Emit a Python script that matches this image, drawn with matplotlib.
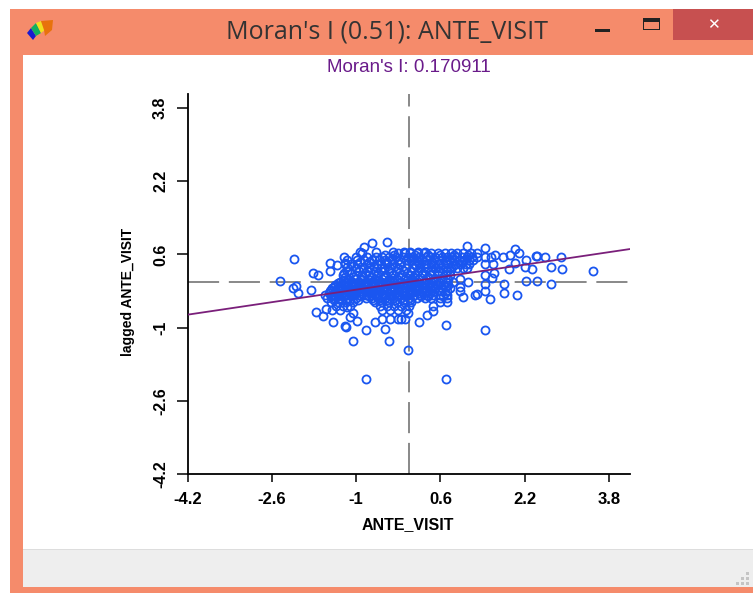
import matplotlib
matplotlib.use('Agg')
import matplotlib.pyplot as plt
from matplotlib.patches import Rectangle, Polygon

W, H = 753, 593

# points standing on their own
outlier_x = [-2.18, -2.445, -2.205, -2.14, -2.10, -1.865, -1.81, -1.73, -1.50, -1.50, -1.37, -1.23,
             -1.21, -1.17, -1.23, -0.69, -0.42, -0.85, -0.895, -1.77, -1.635, -1.57, -1.43, -1.21,
             -1.19, -0.99, -0.82, -1.05, -0.45, -0.385, -0.65, -0.515, -0.36, -0.2, -0.14, -0.075,
             -0.01, -0.82, 0.70, 0.70, 0.19, 0.35, 0.465, -0.01, -1.12, -1.05, -1.17,
             3.50, 2.90, 2.69, 2.89, 2.59, 2.425, 2.41, 2.69, 2.425, 2.22, 2.33, 2.20, 2.22, 2.01,
             2.09, 2.01, 1.91, 1.92, 1.78, 1.635, 1.56, 1.59, 1.445, 1.445, 1.445, 1.10, 1.10,
             1.445, 1.62, 1.57, 1.445, 1.81, 1.445, 1.81, 2.045, 1.54, 1.29, 1.255, 1.03, 1.13,
             0.97, 0.97, 0.97, 0.845, 1.445]
outlier_y = [0.51, 0.02, -0.14, -0.09, -0.25, -0.185, 0.19, 0.14, 0.42, 0.245, 0.37, 0.55,
             0.405, 0.32, 0.19, 0.86, 0.88, 0.755, 0.64, -0.65, -0.75, -0.60, -0.88, -0.965,
             -0.98, -0.85, -1.05, -1.285, -1.02, -1.285, -0.88, -0.82, -0.82, -0.82, -0.82, -0.82,
             -1.48, -2.12, -2.12, -0.95, -0.88, -0.725, -0.645, -0.69, -0.76, -0.69, -0.56,
             0.245, 0.27, 0.317, 0.536, 0.536, 0.565, 0.565, -0.054, 0.019, 0.019, 0.274, 0.317, 0.478, 0.71,
             0.623, 0.42, 0.274, 0.58, 0.536, 0.58, 0.536, 0.383, 0.733, 0.55, 0.383, 0.784, 0.31,
             0.15, 0.19, 0.077, -0.054, -0.054, -0.19, -0.25, -0.29, -0.38, -0.265, -0.295, -0.324, -0.01,
             0.055, -0.105, -0.19, 0.0, -1.05]

# the dense cloud, row by row
row_y = [0.66, 0.62, 0.54, 0.47, 0.39, 0.31, 0.23, 0.15, 0.07, 0.0, -0.07, -0.14, -0.21, -0.28, -0.36,
         -0.44, -0.53, -0.62,
         0.58, 0.43, 0.35, 0.19, 0.11, 0.035, -0.035, -0.105, -0.175, -0.245, -0.32, -0.40]
row_x = [
    [-0.93, -0.62, -0.30, -0.10, 0.02, 0.18, 0.30],
    [-0.2, -0.08, 0.03, 0.15, 0.28, 0.42, 0.55, 0.68, 0.8, 0.92, 1.03, 1.18, 1.3],
    [-1.0, -0.8, -0.62, -0.5, -0.38, -0.25, -0.12, -0.02, 0.08, 0.2, 0.32, 0.4, 0.5, 0.62, 0.72, 0.82, 0.9, 1.0, 1.1, 1.2, 1.3],
    [-1.17, -0.98, -0.85, -0.7, -0.56, -0.45, -0.32, -0.2, -0.05, 0.05, 0.15, 0.25, 0.35, 0.47, 0.58, 0.7, 0.78, 0.85, 0.95, 1.05, 1.14, 1.22],
    [-1.22, -1.1, -0.98, -0.8, -0.6, -0.53, -0.42, -0.3, -0.18, -0.02, 0.1, 0.2, 0.3, 0.42, 0.55, 0.65, 0.75, 0.88, 0.98, 1.08, 1.15],
    [-1.0, -0.87, -0.75, -0.6, -0.47, -0.35, -0.2, -0.05, 0.08, 0.22, 0.35, 0.5, 0.6, 0.7, 0.8, 0.92, 1.02],
    [-1.18, -0.95, -0.8, -0.65, -0.52, -0.38, -0.25, -0.1, 0.05, 0.18, 0.3, 0.42, 0.55, 0.72, 0.78],
    [-1.25, -1.0, -0.88, -0.75, -0.6, -0.45, -0.3, -0.15, 0.02, 0.12, 0.25, 0.4, 0.55, 0.7, 0.78],
    [-1.15, -1.02, -0.9, -0.78, -0.65, -0.5, -0.38, -0.22, -0.08, 0.05, 0.2, 0.33, 0.48, 0.62, 0.75],
    [-1.3, -1.2, -1.08, -0.95, -0.82, -0.7, -0.55, -0.42, -0.28, -0.15, 0.0, 0.12, 0.3, 0.42, 0.58, 0.72],
    [-1.4, -1.28, -1.15, -1.02, -0.9, -0.78, -0.65, -0.52, -0.4, -0.25, -0.1, 0.05, 0.15, 0.25, 0.35, 0.45, 0.55, 0.65, 0.75],
    [-1.45, -1.35, -1.25, -1.12, -1.0, -0.88, -0.75, -0.62, -0.48, -0.35, -0.2, -0.05, 0.1, 0.2, 0.3, 0.4, 0.5, 0.62, 0.78],
    [-1.5, -1.4, -1.28, -1.18, -1.05, -0.92, -0.8, -0.68, -0.55, -0.42, -0.28, -0.12, 0.0, 0.15, 0.25, 0.38, 0.48, 0.6, 0.72],
    [-1.6, -1.45, -1.32, -1.2, -1.08, -0.95, -0.82, -0.7, -0.58, -0.45, -0.32, -0.18, -0.05, 0.1, 0.22, 0.35, 0.45, 0.6, 0.72],
    [-1.55, -1.42, -1.3, -1.15, -1.0, -0.82, -0.7, -0.58, -0.45, -0.3, -0.15, 0.0, 0.15, 0.3, 0.42, 0.6, 0.72],
    [-1.48, -1.35, -1.2, -1.05, -0.65, -0.5, -0.38, -0.22, -0.1, 0.05, 0.6, 0.72],
    [-1.38, -1.25, -1.12, -0.55, -0.42, -0.28, -0.15, 0.0, 0.45],
    [-1.45, -1.3, -0.5, -0.35, -0.2, -0.05],
    [-0.45, -0.28, 0.12, 0.36, 0.6, 0.86, 1.12],
    [-0.92, -0.76, -0.41, -0.14, 0.18, 0.44, 0.71, 1.01],
    [-1.05, -0.67, -0.26, 0.14, 0.48, 0.83],
    [-1.1, -0.83, -0.58, -0.33, -0.04, 0.27, 0.63],
    [-1.22, -1.06, -0.7, -0.47, -0.17, 0.09, 0.37],
    [-1.24, -1.13, -0.88, -0.74, -0.61, -0.36, -0.21, 0.08, 0.52],
    [-1.35, -1.22, -1.1, -0.97, -0.84, -0.72, -0.59, -0.46, -0.33, -0.19, -0.04, 0.1, 0.39, 0.6],
    [-1.42, -1.3, -1.18, -1.06, -0.93, -0.81, -0.68, -0.56, -0.43, -0.3, -0.17, 0.02, 0.14, 0.26, 0.44, 0.7],
    [-1.47, -1.34, -1.22, -1.1, -0.98, -0.85, -0.73, -0.6, -0.47, -0.34, -0.2, -0.08, 0.06, 0.18, 0.32, 0.55],
    [-1.52, -1.38, -1.25, -1.13, -1.0, -0.88, -0.76, -0.63, -0.5, -0.37, -0.24, -0.11, 0.03, 0.17, 0.29, 0.41, 0.68],
    [-1.48, -1.35, -1.23, -1.1, -0.9, -0.75, -0.62, -0.5, -0.36, -0.22, -0.08, 0.07, 0.23, 0.37, 0.65],
    [-1.42, -1.28, -1.12, -0.97, -0.68, -0.54, -0.42, -0.27, -0.12, 0.02],
]

ticks = [-4.2, -2.6, -1, 0.6, 2.2, 3.8]
tick_labels = ['-4.2', '-2.6', '-1', '0.6', '2.2', '3.8']
line_x = [-4.2, 4.2]
line_y = [-0.7178, 0.7178]

x = list(outlier_x)
y = list(outlier_y)
for ry, xs in zip(row_y, row_x):
    x += xs
    y += [ry] * len(xs)

plt.rcParams['font.family'] = ['Liberation Sans', 'DejaVu Sans']

fig = plt.figure(figsize=(W / 100, H / 100), dpi=100, facecolor='white')


def box(x0, y0, x1, y1, color):
    # rectangle given in pixels from the top left
    fig.patches.append(Rectangle((x0 / W, 1 - y1 / H), (x1 - x0) / W, (y1 - y0) / H, color=color,
                                 lw=0, transform=fig.transFigure))


# window around the chart
box(10, 9, W, H, '#f58b6b')
box(23, 55, W, 549, 'white')
box(23, 549, W, 587, '#eeeeee')
box(23, 549, W, 550, '#dddddd')
box(673, 9, W, 40, '#c75050')
box(595, 29, 610, 32, '#222222')
box(643, 18, 660, 30, '#222222')
box(644, 22, 659, 29, '#f58b6b')
# size grip, bottom right
for gx, gy in [(746, 572), (746, 577), (746, 582), (741, 577), (741, 582), (736, 582)]:
    box(gx, gy, gx + 3, gy + 3, '#c4c4c4')
# window icon
for pts, col in [([(27, 33), (31, 28), (36, 36), (33, 40)], '#1a1ad0'),
                 ([(31, 28), (36, 23), (41, 33), (36, 36)], '#10b060'),
                 ([(36, 23), (41, 21), (45, 30), (41, 33)], '#f0e020'),
                 ([(41, 21), (53, 20), (52, 30), (45, 36), (44, 30)], '#e8720c')]:
    fig.patches.append(Polygon([(a / W, 1 - b / H) for a, b in pts], color=col, lw=0,
                               transform=fig.transFigure))

fig.text(387 / W, 1 - 32 / H, "Moran's I (0.51): ANTE_VISIT", ha='center', va='center', fontsize=18,
         color='#333333', family='Open Sans')
fig.text(713 / W, 1 - 25 / H, '\u2715', ha='center', va='center', fontsize=11, color='white',
         family='DejaVu Sans')
fig.text(409 / W, 1 - 68 / H, "Moran's I: 0.170911", ha='center', va='center', fontsize=13.5, color='#6a1b8a')

ax = fig.add_axes([187.5 / W, 1 - 474 / H, 442.5 / W, 380 / H])
ax.set_zorder(5)
ax.patch.set_alpha(0)
ax.set_xlim(-4.2, 4.197)
ax.set_ylim(-4.2, 4.106)

ax.axvline(0, color='#888888', lw=1.4, dashes=(16, 5), zorder=1)
ax.axhline(0, color='#888888', lw=1.4, dashes=(16, 5), zorder=1)
ax.plot(x, y, 'o', mfc='none', mec='#1a56f0', ms=5.8, mew=1.3, zorder=2)
ax.plot(line_x, line_y, color='#7a1f7a', lw=1.3, zorder=3)

ax.spines['top'].set_visible(False)
ax.spines['right'].set_visible(False)
ax.spines['left'].set_linewidth(1.3)
ax.spines['bottom'].set_linewidth(1.3)
ax.set_xticks(ticks, tick_labels, fontsize=12, fontweight='bold')
ax.set_yticks(ticks, tick_labels, fontsize=11.5, fontweight='bold', rotation=90, va='center')
ax.tick_params(axis='x', length=6, width=1.1, pad=7)
ax.tick_params(axis='y', length=8, width=1.1, pad=6)
ax.set_xlabel('ANTE_VISIT', fontsize=11.5, fontweight='bold', va='center')
ax.xaxis.set_label_coords(0.497, -0.132)
ax.set_ylabel('lagged ANTE_VISIT', fontsize=10, fontweight='bold', va='center')
ax.yaxis.set_label_coords(-0.134, 0.479)

fig.savefig('out.png', dpi=100)
